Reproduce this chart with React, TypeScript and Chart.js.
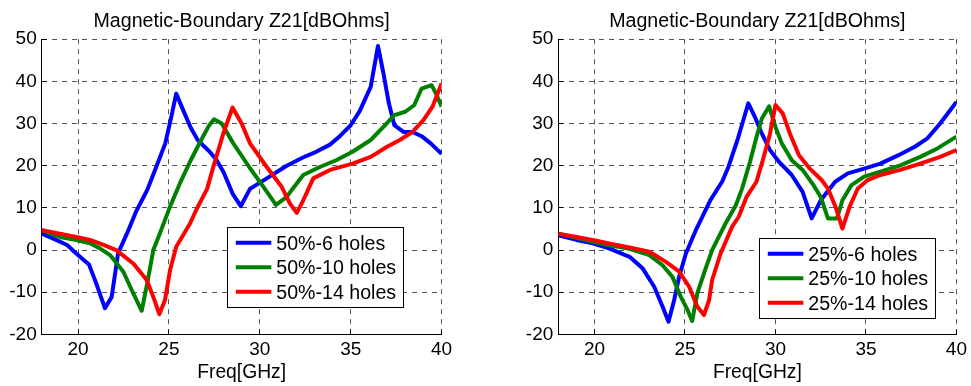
import React, { useEffect, useRef } from "react";
import { Chart, registerables } from "chart.js";

Chart.register(...registerables);

const FONT = '"Liberation Sans", Arial, Helvetica, sans-serif';

// ---- axis ticks ----
const xTicks = [20, 25, 30, 35, 40];
const yTicks = [-20, -10, 0, 10, 20, 30, 40, 50];

// ---- titles / labels ----
const plotTitle = "Magnetic-Boundary Z21[dBOhms]";
const xAxisLabel = "Freq[GHz]";
const leftLabels = ["50%-6 holes", "50%-10 holes", "50%-14 holes"];
const rightLabels = ["25%-6 holes", "25%-10 holes", "25%-14 holes"];
const seriesColors = ["#0000ff", "#008000", "#ff0000"];

// ---- left panel: 50% ----
const l6Freq = [18, 18.7, 19.4, 19.9, 20.6, 21.0, 21.48, 21.85, 22.2, 22.7, 23.2, 23.8, 24.3, 24.8, 25.15, 25.4, 25.8, 26.2, 26.6, 27.2, 27.6, 28.0, 28.5, 28.95, 29.46, 30.38, 31.48, 32.4, 33.1, 33.86, 34.4, 35, 35.5, 36.1, 36.5, 36.8, 37.1, 37.4, 37.9, 38.4, 38.9, 39.4, 40];
const l6Z = [3.9, 2.6, 1.2, -0.8, -3.4, -7.9, -13.8, -11.1, -0.8, 4, 9.2, 14.2, 19.7, 25.3, 32, 37.1, 33, 29, 26, 23.5, 21.5, 18.5, 13.4, 10.4, 14.5, 17, 20, 22, 23.3, 25, 27, 29.6, 33, 38.7, 48.4, 41.9, 34.8, 29.6, 28, 28, 27, 25.3, 22.8];

const l10Freq = [18, 19, 19.9, 20.66, 21.2, 21.76, 22.5, 23.04, 23.5, 23.8, 24.14, 24.5, 25.06, 25.6, 26.2, 26.7, 27.2, 27.48, 27.9, 28.54, 29.46, 30.2, 30.89, 31.48, 31.8, 32.39, 33.3, 34.2, 35.1, 36.1, 36.8, 37.4, 38, 38.5, 38.9, 39.45, 39.7, 40];
const l10Z = [4.7, 3.1, 2.4, 1.6, 0.4, -1.2, -5.2, -10.3, -14.4, -8, 0, 3.9, 10.3, 15.8, 21.3, 25.5, 29.5, 31, 30, 25.3, 19.4, 15, 10.7, 12.6, 14.5, 17.8, 19.7, 21.3, 23.3, 26.1, 29.2, 32, 32.8, 34.4, 38.3, 39.1, 37, 34];

const l14Freq = [18, 19, 19.9, 20.66, 21.4, 22.1, 23.04, 23.78, 24.14, 24.47, 24.78, 25.06, 25.4, 26.16, 26.5, 27.1, 27.44, 27.99, 28.5, 29.0, 29.46, 30.38, 31.2, 31.66, 32.03, 32.39, 32.94, 33.86, 35.1, 36.1, 37, 37.7, 38.4, 39, 39.5, 40];
const l14Z = [4.7, 3.9, 3.1, 2.4, 1.2, 0, -3.2, -7.1, -11.1, -15.2, -11.9, -4.8, 0.8, 6.3, 9.5, 14.5, 19.7, 27.6, 33.8, 30, 25.3, 19.7, 15, 11, 8.8, 11.8, 17, 19, 20.5, 22.1, 24.5, 26.1, 28, 30.8, 34, 39.5];

// ---- right panel: 25% ----
const r6Freq = [18, 19, 19.9, 20.8, 21.94, 22.67, 23.3, 23.76, 24.09, 24.4, 24.68, 25.05, 25.6, 25.87, 26.4, 27.05, 27.4, 27.9, 28.5, 28.9, 29.25, 29.7, 30.2, 30.9, 31.5, 32, 32.5, 33.3, 34, 34.9, 35.8, 36.8, 37.7, 38.4, 39.1, 40];
const r6Z = [3.5, 2.4, 1.6, 0.4, -1.6, -4.4, -8.7, -13.4, -17, -11.9, -6.3, -0.8, 4.7, 7.1, 11.8, 16.2, 19.7, 26.1, 34.8, 31.2, 27.6, 23.7, 20.9, 17.8, 13.8, 7.5, 11.8, 16.2, 18.2, 19.3, 20.5, 22.5, 24.5, 26.5, 30, 35.1];

const r10Freq = [18, 19, 20.1, 21, 21.94, 23.03, 23.76, 24.3, 24.77, 25.14, 25.4, 25.68, 26.05, 26.5, 27.24, 27.8, 28.15, 28.6, 28.95, 29.25, 29.65, 30, 30.35, 30.9, 31.5, 32.1, 32.5, 32.9, 33.4, 33.7, 34.2, 34.9, 35.8, 36.9, 38, 38.95, 40];
const r10Z = [3.9, 2.9, 1.8, 1, 0.3, -1.2, -3.6, -6.3, -11.1, -14.2, -16.8, -10.3, -5.5, 0, 6.3, 10.5, 14.5, 21, 26.8, 31.2, 34.1, 29.2, 25.3, 21.3, 19, 15.4, 12.6, 7.5, 7.5, 11.8, 15.4, 17.4, 18.6, 20.1, 22.1, 24.1, 26.9];

const r14Freq = [18, 19, 20.1, 21, 21.94, 23.03, 23.95, 24.68, 25.23, 25.68, 26.05, 26.33, 26.5, 26.97, 27.6, 27.97, 28.4, 28.95, 29.3, 29.7, 30, 30.4, 30.8, 31.3, 31.9, 32.55, 32.9, 33.35, 33.7, 34.1, 34.55, 35.1, 35.8, 36.9, 38, 39.1, 40];
const r14Z = [3.9, 3.1, 2.2, 1.4, 0.6, -0.4, -2.8, -5.1, -8.7, -13.4, -15.4, -11.9, -7.1, -0.8, 5.5, 7.9, 12.6, 16.2, 21.3, 27.6, 34.4, 32.4, 27.6, 22.5, 19.3, 16.6, 14.6, 9.9, 5.1, 10.3, 14.6, 16.6, 17.8, 19, 20.5, 22.1, 23.7];

const leftSeries = [
  { freq: l6Freq, z: l6Z },
  { freq: l10Freq, z: l10Z },
  { freq: l14Freq, z: l14Z },
];
const rightSeries = [
  { freq: r6Freq, z: r6Z },
  { freq: r10Freq, z: r10Z },
  { freq: r14Freq, z: r14Z },
];

const H = 386;

const decor = {
  id: "decor",
  afterDraw(chart: any, _args: any, opts: any) {
    const { ctx, chartArea: a, scales } = chart;
    const align = (p: number) => Math.round(p - 0.5) + 0.5;
    ctx.save();
    // inward tick marks
    ctx.strokeStyle = "#000";
    ctx.lineWidth = 1;
    ctx.setLineDash([]);
    ctx.beginPath();
    for (const v of yTicks) {
      const y = align(scales.y.getPixelForValue(v));
      ctx.moveTo(a.left, y);
      ctx.lineTo(a.left + 5, y);
    }
    for (const v of xTicks) {
      const x = align(scales.x.getPixelForValue(v));
      ctx.moveTo(x, a.bottom);
      ctx.lineTo(x, a.bottom - 5);
    }
    ctx.stroke();

    // title and x label
    ctx.fillStyle = "#000";
    ctx.font = `19.6px ${FONT}`;
    ctx.textAlign = "center";
    ctx.textBaseline = "alphabetic";
    const cx = (a.left + a.right) / 2;
    ctx.fillText(opts.title, cx, opts.titleY);
    ctx.font = `19.3px ${FONT}`;
    ctx.fillText(opts.xLabel, cx, opts.xLabelY);

    // legend box
    const L = opts.legend;
    ctx.font = `19.6px ${FONT}`;
    const ds = chart.data.datasets;
    const textW = Math.max(...ds.map((d: any) => ctx.measureText(d.label).width));
    const w = Math.round(49 + textW + 7);
    const h = 80;
    ctx.fillStyle = "#fff";
    ctx.fillRect(L.left, L.top, w, h);
    ctx.strokeStyle = "#000";
    ctx.lineWidth = 1;
    ctx.strokeRect(Math.round(L.left) + 0.5, Math.round(L.top) + 0.5, w, h);
    ds.forEach((d: any, i: number) => {
      const y = L.top + 15.5 + i * 24.5;
      ctx.strokeStyle = d.borderColor;
      ctx.lineWidth = 4;
      ctx.lineCap = "butt";
      ctx.beginPath();
      ctx.moveTo(L.left + 8.5, y);
      ctx.lineTo(L.left + 44, y);
      ctx.stroke();
      ctx.fillStyle = "#000";
      ctx.textAlign = "left";
      ctx.fillText(d.label, L.left + 49, y + 7);
    });
    ctx.restore();
  },
};

type Area = { left: number; right: number; top: number; bottom: number };

function Panel(props: {
  x: number;
  width: number;
  area: Area;
  series: { freq: number[]; z: number[] }[];
  labels: string[];
  legend: { left: number; top: number };
}) {
  const ref = useRef<HTMLCanvasElement>(null);
  const { x, width, area, series, labels, legend } = props;

  useEffect(() => {
    const tickFont = { family: FONT, size: 19 };
    const chart = new Chart(ref.current as HTMLCanvasElement, {
      type: "line",
      data: {
        datasets: series.map((s, i) => ({
          label: labels[i],
          data: s.freq.map((f, j) => ({ x: f, y: s.z[j] })),
          borderColor: seriesColors[i],
          backgroundColor: seriesColors[i],
          borderWidth: 4,
          pointRadius: 0,
          tension: 0,
          fill: false,
          order: series.length - i,
          borderJoinStyle: "round",
          borderCapStyle: "butt",
        })),
      },
      options: {
        responsive: false,
        animation: false,
        events: [],
        layout: {
          padding: { left: 0, top: area.top, right: width - area.right, bottom: 0 },
        },
        plugins: {
          legend: { display: false },
          title: { display: false },
          tooltip: { enabled: false },
          decor: {
            title: plotTitle,
            xLabel: xAxisLabel,
            titleY: 26.6,
            xLabelY: 378.3,
            legend,
          },
        } as any,
        scales: {
          x: {
            type: "linear",
            min: 18,
            max: 40,
            afterFit: (s: any) => {
              s.height = H - area.bottom;
            },
            afterBuildTicks: (s: any) => {
              s.ticks = xTicks.map((value) => ({ value }));
            },
            grid: { color: "#555", lineWidth: 1, drawTicks: false },
            border: { display: true, color: "#000", width: 1, dash: [5, 5] },
            ticks: { font: tickFont, color: "#000", padding: 4, maxRotation: 0, autoSkip: false },
          },
          y: {
            type: "linear",
            min: -20,
            max: 50,
            afterFit: (s: any) => {
              s.width = area.left;
            },
            afterBuildTicks: (s: any) => {
              s.ticks = yTicks.map((value) => ({ value }));
            },
            grid: { color: "#555", lineWidth: 1, drawTicks: false },
            border: { display: true, color: "#000", width: 1, dash: [5, 5] },
            ticks: { font: tickFont, color: "#000", padding: 5, autoSkip: false },
          },
        },
      },
      plugins: [decor as any],
    });
    return () => chart.destroy();
  }, []);

  return (
    <canvas
      ref={ref}
      width={width}
      height={H}
      style={{ position: "absolute", left: x, top: 0, width, height: H }}
    />
  );
}

export default function App() {
  return (
    <div style={{ position: "absolute", left: 0, top: 0, width: 971, height: H, background: "#fff" }}>
      <Panel
        x={0}
        width={490}
        area={{ left: 41.7, right: 441.6, top: 39.2, bottom: 334.4 }}
        series={leftSeries}
        labels={leftLabels}
        legend={{ left: 227.3, top: 227.3 }}
      />
      <Panel
        x={490}
        width={481}
        area={{ left: 68.3, right: 469, top: 39.2, bottom: 334.4 }}
        series={rightSeries}
        labels={rightLabels}
        legend={{ left: 269.3, top: 238.3 }}
      />
    </div>
  );
}
